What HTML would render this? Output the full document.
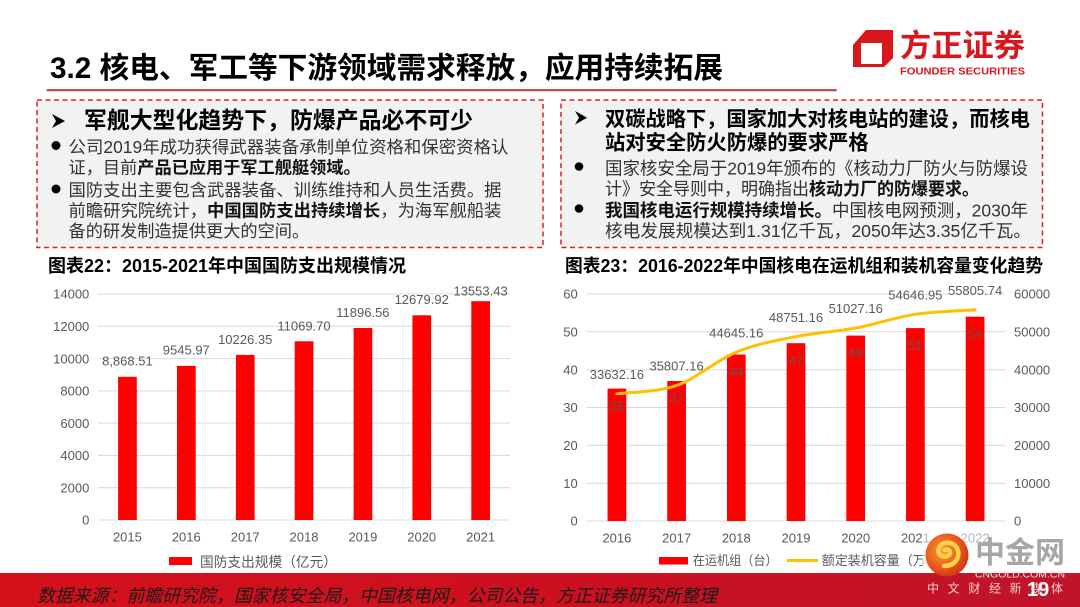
<!DOCTYPE html>
<html><head><meta charset="utf-8"><style>
html,body{margin:0;padding:0;background:#fff;}
svg{display:block;}
text{font-family:"Liberation Sans","Noto Sans CJK SC",sans-serif;}
</style></head><body>
<svg width="1080" height="607" viewBox="0 0 1080 607" xmlns="http://www.w3.org/2000/svg">
<defs>
<linearGradient id="ft" x1="0" y1="0" x2="1" y2="0">
<stop offset="0" stop-color="#d5101b"/><stop offset="0.5" stop-color="#cc1020"/><stop offset="1" stop-color="#c0142a"/>
</linearGradient>
<radialGradient id="wm" cx="0.4" cy="0.4" r="0.7">
<stop offset="0" stop-color="#f7a030"/><stop offset="0.6" stop-color="#e8561c"/><stop offset="1" stop-color="#c82a14"/>
</radialGradient>
</defs>
<rect width="1080" height="607" fill="#fff"/>

<!-- Title -->
<text x="50" y="78" font-size="29.6" font-weight="bold" fill="#000" textLength="673" lengthAdjust="spacingAndGlyphs">3.2 核电、军工等下游领域需求释放，应用持续拓展</text>
<rect x="46.7" y="89" width="790" height="2.3" fill="#c0504d"/>

<!-- Logo -->
<path d="M866,30 L893,30 L893,58 L884,67 L853,67 L853,45 Z" fill="#d7161e"/>
<rect x="861" y="43" width="21" height="21" fill="#fff"/>
<text x="900" y="56.6" font-size="31" font-weight="bold" fill="#d7161e" textLength="125" lengthAdjust="spacingAndGlyphs">方正证券</text>
<text x="900" y="74.4" font-size="10.5" font-weight="bold" fill="#d7161e" textLength="125" lengthAdjust="spacingAndGlyphs">FOUNDER SECURITIES</text>

<!-- Boxes -->
<rect x="37" y="100" width="506" height="147.5" fill="#f2f2f2" stroke="#e02020" stroke-width="1.5" stroke-dasharray="5 3.5"/>
<rect x="561" y="100" width="481.5" height="147.5" fill="#f2f2f2" stroke="#e02020" stroke-width="1.5" stroke-dasharray="5 3.5"/>

<!-- Left box text -->
<path d="M52,114 L65,121 L52,128 L56,121 Z" fill="#000"/>
<text x="84" y="128" font-size="23" font-weight="bold" fill="#000" textLength="389" lengthAdjust="spacingAndGlyphs">军舰大型化趋势下，防爆产品必不可少</text>
<circle cx="56" cy="145.5" r="4.5" fill="#000"/>
<text x="68.5" y="153" font-size="17.2" fill="#333" textLength="440" lengthAdjust="spacingAndGlyphs">公司2019年成功获得武器装备承制单位资格和保密资格认</text>
<text x="68.5" y="173.3" font-size="17.2" fill="#333">证，目前<tspan font-weight="bold" fill="#111">产品已应用于军工舰艇领域。</tspan></text>
<circle cx="56" cy="189" r="4.5" fill="#000"/>
<text x="68.5" y="196" font-size="17.2" fill="#333" textLength="433" lengthAdjust="spacingAndGlyphs">国防支出主要包含武器装备、训练维持和人员生活费。据</text>
<text x="68.5" y="216.5" font-size="17.2" fill="#333" textLength="433" lengthAdjust="spacingAndGlyphs">前瞻研究院统计，<tspan font-weight="bold" fill="#111">中国国防支出持续增长</tspan>，为海军舰船装</text>
<text x="68.5" y="236.8" font-size="17.2" fill="#333">备的研发制造提供更大的空间。</text>

<!-- Right box text -->
<path d="M575,111 L587,117.7 L575,124.5 L579,117.7 Z" fill="#000"/>
<text x="605" y="126.2" font-size="20.3" font-weight="bold" fill="#000" textLength="425" lengthAdjust="spacingAndGlyphs">双碳战略下，国家加大对核电站的建设，而核电</text>
<text x="605" y="149.5" font-size="20.3" font-weight="bold" fill="#000">站对安全防火防爆的要求严格</text>
<circle cx="579" cy="166.5" r="4.3" fill="#000"/>
<text x="605" y="174.5" font-size="17.8" fill="#333" textLength="423" lengthAdjust="spacingAndGlyphs">国家核安全局于2019年颁布的《核动力厂防火与防爆设</text>
<text x="605" y="194.8" font-size="17.8" fill="#333" textLength="374" lengthAdjust="spacingAndGlyphs">计》安全导则中，明确指出<tspan font-weight="bold" fill="#111">核动力厂的防爆要求。</tspan></text>
<circle cx="579" cy="208.5" r="4.3" fill="#000"/>
<text x="605" y="216.3" font-size="17.8" fill="#333" textLength="423" lengthAdjust="spacingAndGlyphs"><tspan font-weight="bold" fill="#111">我国核电运行规模持续增长。</tspan>中国核电网预测，2030年</text>
<text x="605" y="236.8" font-size="17.8" fill="#333" textLength="426" lengthAdjust="spacingAndGlyphs">核电发展规模达到1.31亿千瓦，2050年达3.35亿千瓦。</text>

<!-- Chart titles -->
<text x="48" y="271.8" font-size="18" font-weight="bold" fill="#000" textLength="358" lengthAdjust="spacingAndGlyphs">图表22：2015-2021年中国国防支出规模情况</text>
<text x="565" y="271.8" font-size="18" font-weight="bold" fill="#000" textLength="478" lengthAdjust="spacingAndGlyphs">图表23：2016-2022年中国核电在运机组和装机容量变化趋势</text>

<!-- Left chart -->
<g stroke="#d9d9d9" stroke-width="1">
<line x1="98" y1="294" x2="510" y2="294"/>
<line x1="98" y1="326.3" x2="510" y2="326.3"/>
<line x1="98" y1="358.6" x2="510" y2="358.6"/>
<line x1="98" y1="390.9" x2="510" y2="390.9"/>
<line x1="98" y1="423.1" x2="510" y2="423.1"/>
<line x1="98" y1="455.4" x2="510" y2="455.4"/>
<line x1="98" y1="487.7" x2="510" y2="487.7"/>
<line x1="98" y1="520" x2="510" y2="520"/>
</g>
<g font-size="13" fill="#595959" text-anchor="end">
<text x="89.3" y="298.7">14000</text>
<text x="89.3" y="331">12000</text>
<text x="89.3" y="363.3">10000</text>
<text x="89.3" y="395.6">8000</text>
<text x="89.3" y="427.8">6000</text>
<text x="89.3" y="460.1">4000</text>
<text x="89.3" y="492.4">2000</text>
<text x="89.3" y="524.7">0</text>
</g>
<g fill="#ff0000">
<rect x="118.1" y="376.8" width="18.7" height="143.2"/>
<rect x="177" y="365.9" width="18.7" height="154.1"/>
<rect x="235.9" y="354.9" width="18.7" height="165.1"/>
<rect x="294.7" y="341.3" width="18.7" height="178.7"/>
<rect x="353.6" y="328" width="18.7" height="192"/>
<rect x="412.4" y="315.3" width="18.7" height="204.7"/>
<rect x="471.3" y="301.2" width="18.7" height="218.8"/>
</g>
<g font-size="13" fill="#595959" text-anchor="middle">
<text x="127.4" y="365.7">8,868.51</text>
<text x="186.3" y="354.6">9545.97</text>
<text x="245.2" y="343.8">10226.35</text>
<text x="304" y="330.5">11069.70</text>
<text x="362.9" y="317">11896.56</text>
<text x="421.7" y="304">12679.92</text>
<text x="480.6" y="295.4">13553.43</text>
<text x="127.4" y="541.4">2015</text>
<text x="186.3" y="541.4">2016</text>
<text x="245.2" y="541.4">2017</text>
<text x="304" y="541.4">2018</text>
<text x="362.9" y="541.4">2019</text>
<text x="421.7" y="541.4">2020</text>
<text x="480.6" y="541.4">2021</text>
</g>
<rect x="169" y="557" width="23" height="8" fill="#ff0000"/>
<text x="200" y="567" font-size="14" fill="#595959" textLength="137" lengthAdjust="spacingAndGlyphs">国防支出规模（亿元）</text>

<!-- Right chart -->
<g stroke="#d9d9d9" stroke-width="1">
<line x1="587" y1="294" x2="1005" y2="294"/>
<line x1="587" y1="331.8" x2="1005" y2="331.8"/>
<line x1="587" y1="369.7" x2="1005" y2="369.7"/>
<line x1="587" y1="407.5" x2="1005" y2="407.5"/>
<line x1="587" y1="445.3" x2="1005" y2="445.3"/>
<line x1="587" y1="483.2" x2="1005" y2="483.2"/>
<line x1="587" y1="521" x2="1005" y2="521"/>
</g>
<g font-size="13" fill="#595959" text-anchor="end">
<text x="577.7" y="298.7">60</text>
<text x="577.7" y="336.5">50</text>
<text x="577.7" y="374.4">40</text>
<text x="577.7" y="412.2">30</text>
<text x="577.7" y="450">20</text>
<text x="577.7" y="487.9">10</text>
<text x="577.7" y="525.7">0</text>
</g>
<g font-size="13" fill="#595959">
<text x="1014" y="298.7">60000</text>
<text x="1014" y="336.5">50000</text>
<text x="1014" y="374.4">40000</text>
<text x="1014" y="412.2">30000</text>
<text x="1014" y="450">20000</text>
<text x="1014" y="487.9">10000</text>
<text x="1014" y="525.7">0</text>
</g>
<g fill="#ff0000">
<rect x="607.55" y="388.6" width="18.7" height="132.4"/>
<rect x="667.25" y="381" width="18.7" height="140"/>
<rect x="726.95" y="354.5" width="18.7" height="166.5"/>
<rect x="786.65" y="343.2" width="18.7" height="177.8"/>
<rect x="846.35" y="335.6" width="18.7" height="185.4"/>
<rect x="906.05" y="328.1" width="18.7" height="192.9"/>
<rect x="965.75" y="316.7" width="18.7" height="204.3"/>
</g>
<g font-size="13" fill="#595959" text-anchor="middle">
<text x="616.9" y="410.3">35</text>
<text x="676.6" y="402.7">37</text>
<text x="736.3" y="376.2">44</text>
<text x="796" y="364.9">47</text>
<text x="855.7" y="357.3">49</text>
<text x="915.4" y="349.8">51</text>
<text x="975.1" y="338.4">54</text>
</g>
<path d="M616.9,393.8 C626.85,392.42 656.7,392.45 676.6,385.5 C696.5,378.55 716.4,360.25 736.3,352.1 C756.2,343.95 776.1,340.62 796,336.6 C815.9,332.58 835.8,331.72 855.7,328 C875.6,324.28 895.5,317.32 915.4,314.3 C935.3,311.28 965.15,310.63 975.1,309.9" fill="none" stroke="#ffc000" stroke-width="3" stroke-linecap="round"/>
<g font-size="13" fill="#595959" text-anchor="middle">
<text x="616.9" y="379">33632.16</text>
<text x="676.6" y="370.7">35807.16</text>
<text x="736.3" y="337.3">44645.16</text>
<text x="796" y="321.8">48751.16</text>
<text x="855.7" y="313.2">51027.16</text>
<text x="915.4" y="299.5">54646.95</text>
<text x="975.1" y="295.1">55805.74</text>
<text x="616.9" y="542.7">2016</text>
<text x="676.6" y="542.7">2017</text>
<text x="736.3" y="542.7">2018</text>
<text x="796" y="542.7">2019</text>
<text x="855.7" y="542.7">2020</text>
<text x="915.4" y="542.7">2021</text>
<text x="975.1" y="542.7">2022</text>
</g>
<rect x="659" y="557" width="29" height="7.5" fill="#ff0000"/>
<text x="692.7" y="565" font-size="13" fill="#595959" textLength="85" lengthAdjust="spacingAndGlyphs">在运机组（台）</text>
<line x1="787" y1="560.5" x2="818" y2="560.5" stroke="#ffc000" stroke-width="3"/>
<text x="821.7" y="565" font-size="13" fill="#595959">额定装机容量（万千瓦）</text>

<!-- Footer -->
<rect x="0" y="573" width="1080" height="34" fill="url(#ft)"/>
<text x="37" y="601.8" font-size="18" font-style="italic" fill="#1a1a1a" textLength="680" lengthAdjust="spacingAndGlyphs">数据来源：前瞻研究院，国家核安全局，中国核电网，公司公告，方正证券研究所整理</text>

<!-- Watermark -->
<rect x="922" y="528" width="150" height="45" fill="#fff" opacity="0.55"/>
<circle cx="947" cy="555" r="21.5" fill="url(#wm)"/>
<path d="M944,566 C956,566 961,556 957,548 C953,541 942,541 939,548 C936,555 944,559 949,555 C952,552 948,548 945,550" fill="none" stroke="#ffd24a" stroke-width="4.5" stroke-linecap="round"/>
<text x="975" y="563" font-size="30" font-weight="bold" fill="#a6a6a6" font-family="'Noto Serif CJK SC','Noto Sans CJK SC',serif" textLength="90" lengthAdjust="spacingAndGlyphs">中金网</text>
<text x="975" y="577.3" font-size="9" fill="#e6e6e6" textLength="90" lengthAdjust="spacingAndGlyphs">CNGOLD.COM.CN</text>
<text x="927" y="592.5" font-size="12" fill="#f2d2d2" textLength="136" lengthAdjust="spacing">中文财经新媒体</text>
<text x="1027" y="596" font-size="20" font-weight="bold" fill="#ffffff">19</text>
</svg>
</body></html>
